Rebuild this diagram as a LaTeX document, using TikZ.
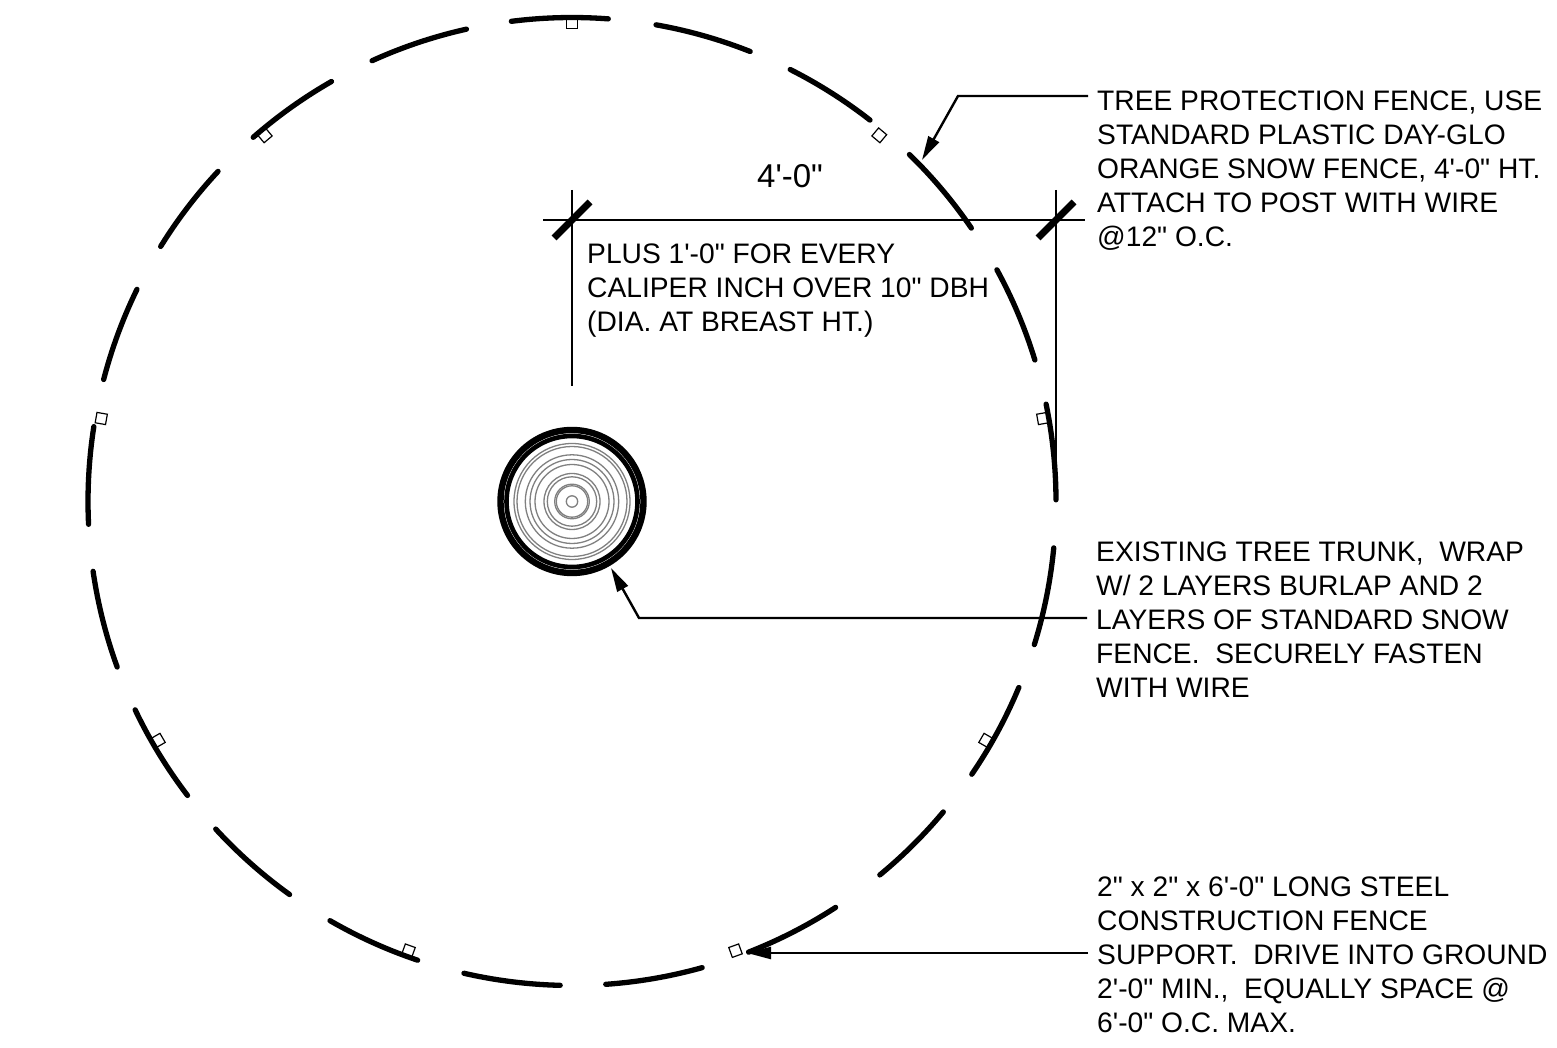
\documentclass[tikz,border=0pt]{standalone}
\usepackage{fontspec}
\usetikzlibrary{arrows.meta}
\newfontfamily\notefont{Liberation Sans}
\tikzset{
	fence/.style={line width=5.3pt,line cap=round},
	fencepost/.style={draw,line width=1.2pt,fill=white,minimum size=10.5pt,inner sep=0pt},
	ring/.style={line width=1.3pt,black!50},
	dimline/.style={line width=2.4pt},
	dimtick/.style={line width=7pt},
	leader/.style={line width=2.4pt,-{Stealth[length=24pt,width=12pt,inset=0pt]}},
	note/.style={font=\notefont\fontsize{28.2}{34}\selectfont,align=left,inner xsep=9pt,inner ysep=0pt,anchor=west}
}
\begin{document}
\begin{tikzpicture}[x=1pt,y=1pt]
	\useasboundingbox (0,0) rectangle (1557,1047);
	% posts under the fence
	\begin{scope}[shift={(572,545.5)}]
		\foreach \ang in {10,50,...,330}
			\node[fencepost,rotate=\ang] (post\ang) at (\ang:478) {};
		% fence segments
		\foreach \from/\to in {85.7/97.2,68.4/80,52/63.2,34.4/45.8,17/28.6,0.2/11.6,-17.2/-5.5,-34.3/-22.6,-50.5/-39.9,-68.6/-57,-86/-74.4,-102.9/-91.4,-120/-108.6,-137.4/-125.7,-154.5/-142.6,-171.7/-160,171.1/182.7,154/165.4,137/148.2,119.8/131.2,102.6/114.4}
			\draw[fence] (\from:484) arc[start angle=\from,end angle=\to,radius=484];
		% trunk
		\draw[line width=6.4pt] (0,0) circle (71.5);
		\draw[line width=4.6pt] (0,0) circle (65.5);
		\foreach \rad in {5.7,15.7,17.3,24.7,28,37,42,46.7,55,58}
			\draw[ring] (0,0) circle (\rad);
	\end{scope}
	% dimension
	\draw[dimline] (572,857) -- (572,661);
	\draw[dimline] (1056,857) -- (1056,560);
	\draw[dimline] (543,827) -- (1085,827);
	\draw[dimtick] (554,809) -- (590,845);
	\draw[dimtick] (1038,809) -- (1074,845);
	\node[font=\notefont\fontsize{33}{34}\selectfont] (dimtext) at (790,871) {4'-0"};
	\node[note] (plustext) at (578,756) {PLUS 1'-0" FOR EVERY\\CALIPER INCH OVER 10" DBH\\(DIA. AT BREAST HT.)};
	% notes
	\node[note,anchor=north west] (fencetext) at (1088,956.5) {TREE PROTECTION FENCE, USE\\STANDARD PLASTIC DAY-GLO\\ORANGE SNOW FENCE, 4'-0" HT.\\ATTACH TO POST WITH WIRE\\@12" O.C.};
	\node[note] (trunktext) at (1087,427) {EXISTING TREE TRUNK,~ WRAP\\W/ 2 LAYERS BURLAP AND 2\\LAYERS OF STANDARD SNOW\\FENCE.~ SECURELY FASTEN\\WITH WIRE};
	\node[note] (posttext) at (1088,92.5) {2" x 2" x 6'-0" LONG STEEL\\CONSTRUCTION FENCE\\SUPPORT.~ DRIVE INTO GROUND\\2'-0" MIN.,~ EQUALLY SPACE @\\6'-0" O.C. MAX.};
	% leaders
	\coordinate (fencebend) at (958,951);
	\coordinate (fencetip) at (922,887);
	\coordinate (trunkbend) at (639,429);
	\coordinate (trunktip) at (611,479);
	\coordinate (posttip) at (747,94);
	\draw[leader] (fencetext.west |- fencebend) -- (fencebend) -- (fencetip);
	\draw[leader] (trunktext.west |- trunkbend) -- (trunkbend) -- (trunktip);
	\draw[leader] (posttext.west |- posttip) -- (posttip);
\end{tikzpicture}
\end{document}
